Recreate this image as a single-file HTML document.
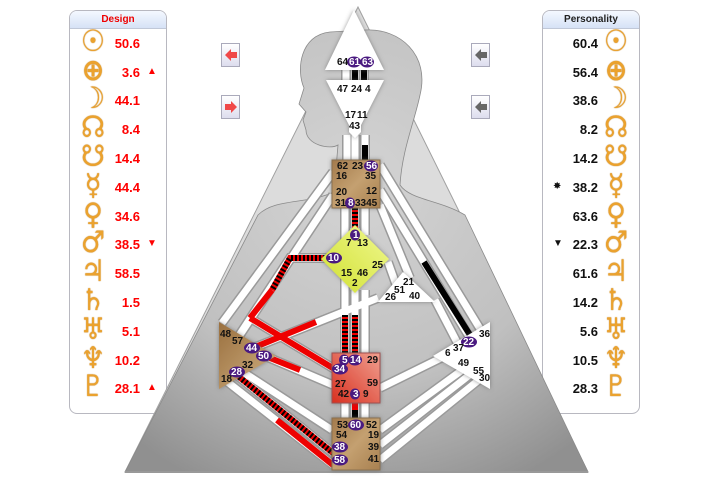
<!DOCTYPE html>
<html><head><meta charset="utf-8"><style>
body{margin:0;width:727px;height:488px;background:#fff;overflow:hidden;position:relative;font-family:"Liberation Sans","DejaVu Sans",sans-serif}
.panel{position:absolute;top:10px;width:96px;height:402px;border:1px solid #b8b8c0;border-radius:8px;background:#fff;overflow:hidden}
.hd{height:17px;background:linear-gradient(#f4f8ff,#d6e2f6);border-bottom:1px solid #c0c8d8;font-size:10px;font-weight:bold;text-align:center;line-height:18px}
.row{position:absolute;height:28px;width:96px;font-weight:bold;font-size:13px}
.g{position:absolute;font-family:"DejaVu Sans",sans-serif;font-weight:bold;color:#eba22e;font-size:27px;top:-5px;width:30px;text-align:center;text-shadow:0 0 1px #b07010;transform:scaleY(1.1)}
.n{position:absolute;top:5px;text-align:right;width:50px}
.m{position:absolute;top:6px;font-size:10px}
.btn{position:absolute;width:19px;height:24px;border:1px solid #aab;background:linear-gradient(#fff,#dde);box-sizing:border-box}
</style></head><body>
<div class="panel" style="left:69px">
<div class="hd" style="color:#e00">Design</div>
</div>
<div class="panel" style="left:542px">
<div class="hd" style="color:#222">Personality</div>
</div>
<svg width="727" height="488" style="position:absolute;left:0;top:0">
<defs>
<radialGradient id="bg" cx="0.5" cy="0.35" r="0.75"><stop offset="0" stop-color="#d4d4d4"/><stop offset="0.6" stop-color="#c0c0c0"/><stop offset="1" stop-color="#909090"/></radialGradient>
<linearGradient id="tan" x1="0" y1="0" x2="1" y2="1"><stop offset="0" stop-color="#a37a4c"/><stop offset="0.5" stop-color="#c4a070"/><stop offset="1" stop-color="#a88050"/></linearGradient>
<linearGradient id="red" x1="1" y1="0" x2="0" y2="1"><stop offset="0" stop-color="#f0a090"/><stop offset="1" stop-color="#d83020"/></linearGradient>
<linearGradient id="yel" x1="1" y1="0" x2="0" y2="1"><stop offset="0" stop-color="#f0f890"/><stop offset="1" stop-color="#d0e030"/></linearGradient>
<linearGradient id="spl" x1="0" y1="0" x2="1" y2="1"><stop offset="0" stop-color="#9a7040"/><stop offset="1" stop-color="#d0b080"/></linearGradient>
<filter id="sh" x="-20%" y="-20%" width="140%" height="140%"><feDropShadow dx="0" dy="0" stdDeviation="2" flood-color="#555" flood-opacity="0.6"/></filter>
</defs>
<polygon points="358,7 125,472 588,472" fill="#dcdcdc" stroke="#a0a0a0" stroke-width="1"/>
<path d="M330,32 C300,35 296,70 304,88 L299,104 L306,112 L303,120 L306,130 C306,145 330,150 338,145 L334,192 C305,205 275,198 258,215 L125,472 L588,472 L465,215 C440,200 410,200 400,185 C402,150 415,120 420,95 C430,55 400,28 365,30 Z" fill="url(#bg)" stroke="#8a8a8a" stroke-width="0.8"/>
<line x1="125" y1="472" x2="588" y2="472" stroke="#999" stroke-width="2"/>
<g stroke-linecap="butt" fill="none">
<g stroke="#9a9a9a" stroke-width="10">
<path d="M346,70V80M355,70V80M364,70V80M347,135V160M355,135V160M365,135V160M355,208V228M365,208V235M345,208V353M355,290V353M365,290V353M345,403V418M355,403V418M365,403V418"/>
<path d="M333,258H290L236,340M250,318L336,370M248,350L378,298M265,356L333,385M233,372L333,453M225,380L333,465M240,370L332,430M222,323L333,172M238,338L333,195"/>
<path d="M380,165L482,332M380,190L470,338M380,205L410,278M388,262L398,290M435,300L460,348M380,388L445,356M380,430L465,368M380,445L472,373M380,460L480,379"/>
</g>
<g stroke="#fff" stroke-width="7">
<path d="M346,70V80M355,70V80M364,70V80M347,135V160M355,135V160M365,135V160M355,208V228M365,208V235M345,208V353M355,290V353M365,290V353M345,403V418M355,403V418M365,403V418"/>
<path d="M333,258H290L236,340M250,318L336,370M248,350L378,298M265,356L333,385M233,372L333,453M225,380L333,465M240,370L332,430M222,323L333,172M238,338L333,195"/>
<path d="M380,165L482,332M380,190L470,338M380,205L410,278M388,262L398,290M435,300L460,348M380,388L445,356M380,430L465,368M380,445L472,373M380,460L480,379"/>
</g>
<g stroke-width="6">
<path d="M355,70V80M364,70V80M365,145V160M424,262L470,335" stroke="#000"/>
<path d="M250,318L336,370M248,350L316,322M265,356L300,370M277,420L333,465M355,403V410" stroke="#e00"/>
<path d="M355,410V418" stroke="#000"/>
<path d="M333,258H290L272,290M345,315V353M355,315V353M233,372L333,453M355,208V228" stroke="#e00"/>
<path d="M333,258H290L272,290M345,315V353M355,315V353M233,372L333,453M355,208V228" stroke="#000" stroke-dasharray="2,2"/>
<path d="M272,290L250,318" stroke="#e00"/>
</g>
</g>
<polygon points="354,10 325,70 384,70" fill="#fff" filter="url(#sh)"/>
<polygon points="326,80 384,80 361,125 361,132 355,138 349,132 349,125" fill="#fff" filter="url(#sh)"/>
<rect x="332" y="160" width="48" height="48" fill="url(#tan)" stroke="#8a7050" filter="url(#sh)"/>
<polygon points="355,225 389,259 355,293 321,259" fill="url(#yel)" filter="url(#sh)"/>
<polygon points="378,302 435,302 403,272" fill="#fff" filter="url(#sh)"/>
<polygon points="219,322 219,389 276,356" fill="url(#spl)" filter="url(#sh)"/>
<polygon points="490,322 490,389 433,356" fill="#fff" filter="url(#sh)"/>
<rect x="332" y="353" width="48" height="50" fill="url(#red)" stroke="#a05050" filter="url(#sh)"/>
<rect x="332" y="418" width="48" height="52" fill="url(#tan)" stroke="#8a7050" filter="url(#sh)"/>
<g font-family="Liberation Sans,sans-serif" font-weight="bold" font-size="10" fill="#111">
<g fill="#4a1a80"><ellipse cx="354" cy="62" rx="7" ry="5.5"/><ellipse cx="367" cy="62" rx="7" ry="5.5"/><ellipse cx="371" cy="166" rx="7" ry="5.5"/><ellipse cx="350" cy="203" rx="5" ry="5.5"/><ellipse cx="355" cy="235" rx="5" ry="5.5"/><ellipse cx="334" cy="258" rx="8" ry="5.5"/><ellipse cx="344" cy="360" rx="5" ry="5.5"/><ellipse cx="355" cy="360" rx="7" ry="5.5"/><ellipse cx="340" cy="369" rx="8" ry="5.5"/><ellipse cx="355" cy="394" rx="5" ry="5.5"/><ellipse cx="356" cy="425" rx="8" ry="5.5"/><ellipse cx="340" cy="447" rx="8" ry="5.5"/><ellipse cx="340" cy="460" rx="8" ry="5.5"/><ellipse cx="252" cy="348" rx="8" ry="5.5"/><ellipse cx="264" cy="356" rx="8" ry="5.5"/><ellipse cx="237" cy="372" rx="8" ry="5.5"/><ellipse cx="469" cy="342" rx="8" ry="5.5"/></g>
<text x="337" y="65">64</text>
<g fill="#fff"><text x="349" y="65">61</text><text x="362" y="65">63</text><text x="366" y="169">56</text><text x="348" y="206">8</text><text x="353" y="238">1</text><text x="328" y="261">10</text><text x="342" y="363">5</text><text x="350" y="363">14</text><text x="334" y="372">34</text><text x="353" y="397">3</text><text x="350" y="428">60</text><text x="334" y="450">38</text><text x="334" y="463">58</text><text x="246" y="351">44</text><text x="258" y="359">50</text><text x="231" y="375">28</text><text x="463" y="345">22</text></g>
<text x="337" y="92">47</text><text x="351" y="92">24</text><text x="365" y="92">4</text>
<text x="345" y="118">17</text><text x="357" y="118">11</text><text x="349" y="129">43</text>
<text x="337" y="169">62</text><text x="352" y="169">23</text><text x="336" y="179">16</text><text x="365" y="179">35</text>
<text x="336" y="195">20</text><text x="366" y="194">12</text><text x="335" y="206">31</text><text x="355" y="206">3345</text>
<text x="346" y="246">7</text><text x="357" y="246">13</text><text x="372" y="268">25</text><text x="341" y="276">15</text><text x="357" y="276">46</text><text x="352" y="286">2</text>
<text x="403" y="285">21</text><text x="394" y="293">51</text><text x="385" y="300">26</text><text x="409" y="299">40</text>
<text x="220" y="337">48</text><text x="232" y="344">57</text><text x="242" y="368">32</text><text x="221" y="382">18</text>
<text x="479" y="337">36</text><text x="445" y="356">6</text><text x="453" y="351">37</text><text x="458" y="366">49</text><text x="473" y="374">55</text><text x="479" y="381">30</text>
<text x="367" y="363">29</text><text x="335" y="387">27</text><text x="367" y="386">59</text><text x="338" y="397">42</text><text x="363" y="397">9</text>
<text x="337" y="428">53</text><text x="366" y="428">52</text><text x="336" y="438">54</text><text x="368" y="438">19</text><text x="368" y="450">39</text><text x="368" y="462">41</text>
</g>
</svg>
<div class="btn" style="left:221px;top:43px"><svg width="17" height="22"><path d="M3,11 L9,5 V8 H15 V14 H9 V17 Z" fill="#f04848"/></svg></div>
<div class="btn" style="left:221px;top:95px"><svg width="17" height="22"><path d="M15,11 L9,5 V8 H3 V14 H9 V17 Z" fill="#f04848"/></svg></div>
<div class="btn" style="left:471px;top:43px"><svg width="17" height="22"><path d="M3,11 L9,5 V8 H15 V14 H9 V17 Z" fill="#666"/></svg></div>
<div class="btn" style="left:471px;top:95px"><svg width="17" height="22"><path d="M3,11 L9,5 V8 H15 V14 H9 V17 Z" fill="#666"/></svg></div>

<div class="row" style="left:70px;top:31px;color:#f00"><span class="g" style="left:8px">☉</span><span class="n" style="left:20px">50.6</span></div>
<div class="row" style="left:70px;top:60px;color:#f00"><span class="g" style="left:8px">⊕</span><span class="n" style="left:20px">3.6</span><span class="m" style="left:77px">▲</span></div>
<div class="row" style="left:70px;top:88px;color:#f00"><span class="g" style="left:8px">☽</span><span class="n" style="left:20px">44.1</span></div>
<div class="row" style="left:70px;top:117px;color:#f00"><span class="g" style="left:8px">☊</span><span class="n" style="left:20px">8.4</span></div>
<div class="row" style="left:70px;top:146px;color:#f00"><span class="g" style="left:8px">☋</span><span class="n" style="left:20px">14.4</span></div>
<div class="row" style="left:70px;top:175px;color:#f00"><span class="g" style="left:8px">☿</span><span class="n" style="left:20px">44.4</span></div>
<div class="row" style="left:70px;top:204px;color:#f00"><span class="g" style="left:8px">♀</span><span class="n" style="left:20px">34.6</span></div>
<div class="row" style="left:70px;top:232px;color:#f00"><span class="g" style="left:8px">♂</span><span class="n" style="left:20px">38.5</span><span class="m" style="left:77px">▼</span></div>
<div class="row" style="left:70px;top:261px;color:#f00"><span class="g" style="left:8px">♃</span><span class="n" style="left:20px">58.5</span></div>
<div class="row" style="left:70px;top:290px;color:#f00"><span class="g" style="left:8px">♄</span><span class="n" style="left:20px">1.5</span></div>
<div class="row" style="left:70px;top:319px;color:#f00"><span class="g" style="left:8px">♅</span><span class="n" style="left:20px">5.1</span></div>
<div class="row" style="left:70px;top:348px;color:#f00"><span class="g" style="left:8px">♆</span><span class="n" style="left:20px">10.2</span></div>
<div class="row" style="left:70px;top:376px;color:#f00"><span class="g" style="left:8px">♇</span><span class="n" style="left:20px">28.1</span><span class="m" style="left:77px">▲</span></div>

<div class="row" style="left:543px;top:31px;color:#111"><span class="n" style="left:5px">60.4</span><span class="g" style="left:58px">☉</span></div>
<div class="row" style="left:543px;top:60px;color:#111"><span class="n" style="left:5px">56.4</span><span class="g" style="left:58px">⊕</span></div>
<div class="row" style="left:543px;top:88px;color:#111"><span class="n" style="left:5px">38.6</span><span class="g" style="left:58px">☽</span></div>
<div class="row" style="left:543px;top:117px;color:#111"><span class="n" style="left:5px">8.2</span><span class="g" style="left:58px">☊</span></div>
<div class="row" style="left:543px;top:146px;color:#111"><span class="n" style="left:5px">14.2</span><span class="g" style="left:58px">☋</span></div>
<div class="row" style="left:543px;top:175px;color:#111"><span class="m" style="left:10px">✸</span><span class="n" style="left:5px">38.2</span><span class="g" style="left:58px">☿</span></div>
<div class="row" style="left:543px;top:204px;color:#111"><span class="n" style="left:5px">63.6</span><span class="g" style="left:58px">♀</span></div>
<div class="row" style="left:543px;top:232px;color:#111"><span class="m" style="left:10px">▼</span><span class="n" style="left:5px">22.3</span><span class="g" style="left:58px">♂</span></div>
<div class="row" style="left:543px;top:261px;color:#111"><span class="n" style="left:5px">61.6</span><span class="g" style="left:58px">♃</span></div>
<div class="row" style="left:543px;top:290px;color:#111"><span class="n" style="left:5px">14.2</span><span class="g" style="left:58px">♄</span></div>
<div class="row" style="left:543px;top:319px;color:#111"><span class="n" style="left:5px">5.6</span><span class="g" style="left:58px">♅</span></div>
<div class="row" style="left:543px;top:348px;color:#111"><span class="n" style="left:5px">10.5</span><span class="g" style="left:58px">♆</span></div>
<div class="row" style="left:543px;top:376px;color:#111"><span class="n" style="left:5px">28.3</span><span class="g" style="left:58px">♇</span></div>
</body></html>
